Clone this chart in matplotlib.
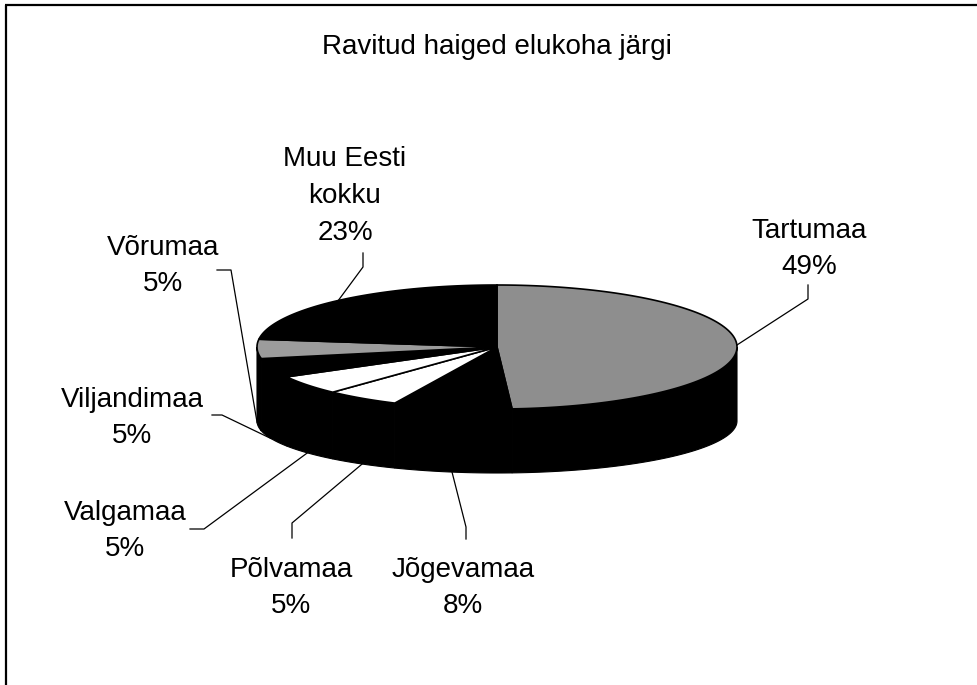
import numpy as np
import matplotlib
matplotlib.use("Agg")
import matplotlib.pyplot as plt
from matplotlib.patches import Polygon

# ---------------- data ----------------
title = "Ravitud haiged elukoha järgi"
categories = ["Tartumaa", "Jõgevamaa", "Põlvamaa", "Valgamaa",
              "Viljandimaa", "Võrumaa", "Muu Eesti\nkokku"]
values = [49, 8, 5, 5, 5, 5, 23]

# ---------------- styles / layout ----------------
top_colors = ["#8e8e8e", "#000000", "#ffffff", "#ffffff",
              "#000000", "#9c9c9c", "#000000"]
wall_color = "#000000"

CX, CY, A, B_TOP = 497, 347, 240, 62     # top ellipse (pixels)
CY_BOT, B_BOT = 421, 52                  # bottom ellipse

# label block centres and leader elbows (pixels)
label_pos = [(809, 249), (463, 588), (291, 588), (125, 531),
             (132, 418), (163, 266), (345, 196)]
leader_elbow = [((808, 285), (808, 299)),
                ((466, 539), (466, 527)),
                ((292, 538), (292, 523)),
                ((190, 529), (204, 529)),
                ((212, 415), (222, 415)),
                ((217, 270), (231, 270)),
                ((363, 253), (363, 267))]

FONT = "Liberation Sans"
plt.rcParams["font.family"] = [FONT, "DejaVu Sans"]

fig = plt.figure(figsize=(9.77, 6.85), dpi=100)
ax = fig.add_axes([0, 0, 1, 1])
ax.set_xlim(0, 977)
ax.set_ylim(685, 0)
ax.axis("off")


def top_pt(th):
    t = np.radians(th)
    return CX + A * np.sin(t), CY - B_TOP * np.cos(t)


def bot_pt(th):
    t = np.radians(th)
    return CX + A * np.sin(t), CY_BOT - B_BOT * np.cos(t)


total = float(sum(values))
bounds = np.concatenate([[0], np.cumsum(values)]) / total * 360.0

# walls (front-facing part, angles 90..270 measured clockwise from 12 o'clock)
for i in range(len(values)):
    a0, a1 = max(bounds[i], 90), min(bounds[i + 1], 270)
    if a1 <= a0:
        continue
    ths = np.linspace(a0, a1, 80)
    tp = [top_pt(t) for t in ths]
    bp = [bot_pt(t) for t in ths[::-1]]
    ax.add_patch(Polygon(tp + bp, closed=True, facecolor=wall_color,
                         edgecolor=wall_color, lw=0.8, zorder=2))

# top faces
for i in range(len(values)):
    ths = np.linspace(bounds[i], bounds[i + 1], 120)
    pts = [(CX, CY)] + [top_pt(t) for t in ths]
    ax.add_patch(Polygon(pts, closed=True, facecolor=top_colors[i],
                         edgecolor="black", lw=1.2, zorder=3,
                         joinstyle="miter"))

# labels and leader lines
for i, (name, v) in enumerate(zip(categories, values)):
    pct = round(v / total * 100)
    x, y = label_pos[i]
    ax.text(x, y, f"{name}\n{pct}%", ha="center", va="center",
            multialignment="center", fontsize=20, linespacing=1.54,
            color="black", zorder=5)
    mid = (bounds[i] + bounds[i + 1]) / 2
    if 90 < mid < 270:
        ex, ey = bot_pt(mid)
    else:
        ex, ey = top_pt(mid)
    (x0, y0), (x1, y1) = leader_elbow[i]
    ax.plot([x0, x1, ex], [y0, y1, ey], color="black", lw=0.9, zorder=4)

# title
ax.text(497, 47, title, ha="center", va="center", fontsize=20, color="black")

# chart-area border (top and left visible)
ax.plot([5, 977], [5, 5], color="black", lw=1.6, solid_capstyle="butt")
ax.plot([6, 6], [5, 685], color="black", lw=1.6, solid_capstyle="butt")

fig.savefig("out.png", dpi=100)
